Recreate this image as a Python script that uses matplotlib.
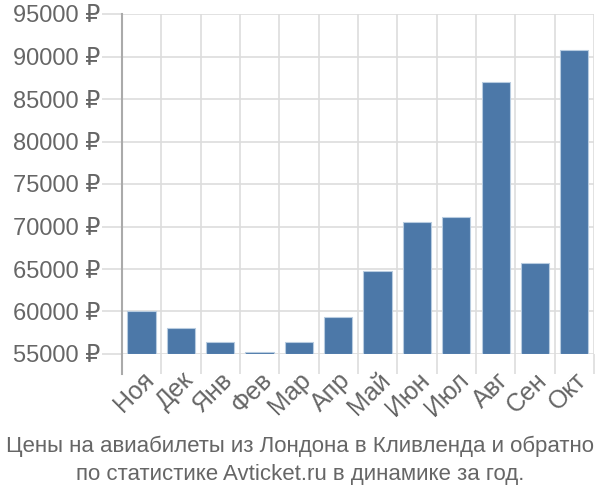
import matplotlib
matplotlib.use('Agg')
import matplotlib.pyplot as plt

months = ['Ноя', 'Дек', 'Янв', 'Фев', 'Мар', 'Апр', 'Май', 'Июн', 'Июл', 'Авг', 'Сен', 'Окт']
prices = [60100, 58050, 56400, 55200, 56400, 59400, 64750, 70500, 71150, 87000, 65750, 90750]
yticks = [55000, 60000, 65000, 70000, 75000, 80000, 85000, 90000, 95000]
title = 'Цены на авиабилеты из Лондона в Кливленда и обратно\nпо статистике Avticket.ru в динамике за год.'

plt.rcParams['font.family'] = ['Liberation Sans', 'DejaVu Sans']

fig = plt.figure(figsize=(6, 5), dpi=100)
ax = fig.add_axes([0.2033, 0.292, 0.7867, 0.68])

base = yticks[0]
x = range(len(months))
ax.bar(x, [p - base for p in prices], bottom=base, width=0.72,
       color='#4c78a8', edgecolor='#b8cce0', linewidth=0.8, zorder=3)

ax.set_xlim(-0.5, len(months) - 0.5)
ax.set_ylim(yticks[0], yticks[-1])
ax.set_yticks(yticks)
ax.set_yticklabels([f'{v} ₽' for v in yticks])
ax.set_xticks([i - 0.5 for i in range(len(months) + 1)], minor=False)
ax.set_xticklabels([''] * (len(months) + 1))
ax.set_xticks(list(x), minor=True)
ax.set_xticklabels(months, minor=True, rotation=45, ha='right', rotation_mode='anchor')

ax.grid(True, which='major', color='#dddddd', linewidth=1.2, zorder=0)
ax.tick_params(axis='both', which='major', length=14.4, color='#dddddd', width=1.2,
               labelsize=17, labelcolor='#666666')
ax.tick_params(axis='x', which='minor', length=0, pad=10, labelsize=18, labelcolor='#666666')
ax.tick_params(axis='y', pad=1.5)

for s in ['top', 'right', 'bottom']:
    ax.spines[s].set_visible(False)
ax.spines['left'].set_color('#aaaaaa')
ax.spines['left'].set_linewidth(1.5)
ax.spines['left'].set_bounds(yticks[0] - 2400, yticks[-1])
ax.spines['left'].set_clip_on(False)

fig.text(0.5, 0.079, title, ha='center', va='center', fontsize=16,
         color='#666666', linespacing=1.4)

fig.savefig('out.png', dpi=100)
